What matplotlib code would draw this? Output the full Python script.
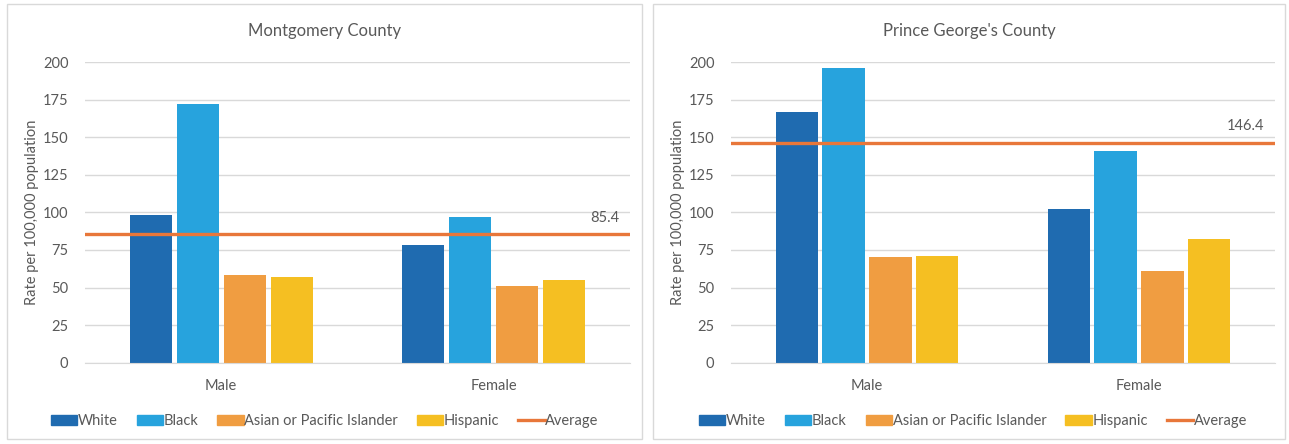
import matplotlib.pyplot as plt
import numpy as np
from matplotlib.patches import Rectangle
from matplotlib.lines import Line2D

plt.rcParams['font.family'] = ['Lato', 'DejaVu Sans']

# data
sexes = ['Male', 'Female']
races = ['White', 'Black', 'Asian or Pacific Islander', 'Hispanic']

mont_white = [98, 78]
mont_black = [172, 97]
mont_asian = [58, 51]
mont_hisp = [57, 55]
mont_avg = 85.4

pg_white = [167, 102]
pg_black = [196, 141]
pg_asian = [70, 61]
pg_hisp = [71, 82]
pg_avg = 146.4

colors = ['#1f6bb0', '#27a3dd', '#f09d41', '#f5bf22']
avg_color = '#e8773a'
text_color = '#595959'
grid_color = '#d9d9d9'

W, H = 1289, 444
fig = plt.figure(figsize=(W / 100, H / 100), dpi=100)

# panel frames
panels = [(7, 642), (653, 1285)]
for x0, x1 in panels:
    fig.patches.append(Rectangle((x0 / W, 5 / H), (x1 - x0) / W, 435 / H,
                                 transform=fig.transFigure, fill=False,
                                 edgecolor='#d9d9d9', lw=1))


def draw_panel(ax, title, series, avg, label_x, panel, leg_x):
    x = np.arange(len(sexes))
    width = 0.155
    step = 0.1725
    for i, (vals, c) in enumerate(zip(series, colors)):
        ax.bar(x + (i - 1.5) * step, vals, width, color=c, label=races[i], zorder=2)
    ax.axhline(avg, color=avg_color, lw=2.4, zorder=3, label='Average')
    ax.text(label_x, avg + 11, f'{avg}', transform=ax.get_yaxis_transform(),
            ha='center', va='center', fontsize=10.5, color=text_color)

    ax.set_xlim(-0.5, 1.5)
    ax.set_ylim(0, 200)
    ax.set_yticks(range(0, 201, 25))
    ax.set_xticks(x)
    ax.set_xticklabels(sexes)
    ax.yaxis.grid(True, color=grid_color, lw=1, zorder=0)
    for s in ['top', 'right', 'left']:
        ax.spines[s].set_visible(False)
    ax.spines['bottom'].set_color(grid_color)
    ax.tick_params(axis='both', length=0, labelsize=10.5, labelcolor=text_color)
    ax.tick_params(axis='y', pad=12)
    ax.tick_params(axis='x', pad=12)
    ax.set_ylabel('Rate per 100,000 population', fontsize=10.5, color=text_color, labelpad=3)

    fig.text((panel[0] + panel[1]) / 2 / W, 1 - 31 / H, title, ha='center', va='center',
             fontsize=12, color=text_color)

    handles = [Rectangle((0, 0), 1, 1, color=c) for c in colors]
    handles.append(Line2D([0], [0], color=avg_color, lw=2.4))
    ax.legend(handles, races + ['Average'], loc='center',
              bbox_to_anchor=(leg_x, -0.195), ncol=5, frameon=False,
              fontsize=10.5, handlelength=1.8, handleheight=0.7,
              handletextpad=0.05, columnspacing=1.3, labelcolor=text_color)


bottom = (H - 362.7) / H
top = (H - 62) / H
ax1 = fig.add_axes([85 / W, bottom, 545 / W, top - bottom])
ax2 = fig.add_axes([731 / W, bottom, 544 / W, top - bottom])

draw_panel(ax1, 'Montgomery County',
           [mont_white, mont_black, mont_asian, mont_hisp], mont_avg, 0.954,
           panels[0], 0.44)
draw_panel(ax2, "Prince George's County",
           [pg_white, pg_black, pg_asian, pg_hisp], pg_avg, 0.945,
           panels[1], 0.445)

fig.savefig('out.png', dpi=100)
